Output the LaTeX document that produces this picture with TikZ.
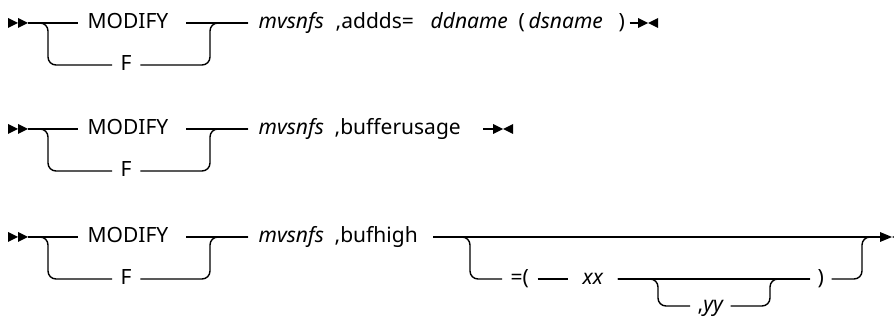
\documentclass[tikz,border=0pt]{standalone}
\usepackage{fontspec}
\setmainfont{Noto Sans}
\begin{document}
\fontsize{21}{25}\selectfont
\begin{tikzpicture}[x=1pt,y=-1pt, line width=1.4pt,
  txt/.style={anchor=mid west, inner xsep=8pt, inner ysep=0pt, font=\fontsize{21}{25}\selectfont},
  itx/.style={txt, font=\fontsize{21}{25}\selectfont\itshape},
  plain/.style={inner xsep=0pt},
  rc/.style={rounded corners=8pt}]
\useasboundingbox (0,0) rectangle (894,320);
\clip (0,0) rectangle (894,320);
% common left part of each row
\foreach \r/\Y in {a/23,b/129,c/237}{
  \fill (8,\Y-5) -- (18,\Y) -- (8,\Y+5) -- cycle;
  \fill (18,\Y-5) -- (28,\Y) -- (18,\Y+5) -- cycle;
  \coordinate (s\r) at (28,\Y);
  \node[txt, inner xsep=9pt] (mod\r) at (78,\Y) {MODIFY};
  \node[txt] (f\r) at (112,\Y+42) {F};
  \node[itx, inner xsep=10pt] (mv\r) at (248,\Y) {mvsnfs};
  \draw (s\r) -- (mod\r.mid west);
  \draw[rc] (s\r) -- (48,\Y) -- (48,\Y+42) -- (f\r.mid west);
  \draw[rc] (f\r.mid east) -- (210,\Y+42) -- (210,\Y) -- (mv\r.mid west);
  \draw ([xshift=8pt]mod\r.mid east) -- (mv\r.mid west);
}
% row 1
\node[txt, plain] (adda) at (335,23) {,addds=};
\node[itx, plain] (ddn) at (430,23) {ddname};
\node[txt, plain] (lpa) at (518,23) {(};
\node[itx, plain] (dsn) at (528,23) {dsname};
\node[txt, plain, inner xsep=4pt] (rpa) at (614,23) {)};
\coordinate (ea) at (638,23);
\draw (rpa.mid east) -- (ea);
\fill (638,18) -- (648,23) -- (638,28) -- cycle;
\fill (648,23) -- (658,18) -- (658,28) -- cycle;
% row 2
\node[txt, plain] (bu) at (334,129) {,bufferusage};
\coordinate (b1) at (483,129);
\coordinate (eb) at (493,129);
\draw (b1) -- (eb);
\fill (493,124) -- (503,129) -- (493,134) -- cycle;
\fill (503,129) -- (513,124) -- (513,134) -- cycle;
% row 3
\node[txt, plain] (bh) at (334,237) {,bufhigh};
\coordinate (c3) at (433,237);
\coordinate (ec) at (880,237);
\node[txt] (eq) at (502,279) {=(};
\node[itx, inner xsep=14pt] (xx) at (568,279) {xx};
\node[txt, inner xsep=7pt] (rp3) at (810,279) {)};
\node[txt, inner xsep=7pt] (yy) at (690,306) {,\itshape yy};
\draw (c3) -- (ec);
\draw[rc] (c3) -- (470,237) -- (470,279) -- (eq.mid west);
\draw (eq.mid east) -- (xx.mid west);
\draw (xx.mid east) -- (rp3.mid west);
\draw[rc] (xx.mid east) -- (658,279) -- (658,306) -- (yy.mid west);
\draw[rc] (yy.mid east) -- (770,306) -- (770,279) -- (rp3.mid west);
\draw[rc] (rp3.mid east) -- (862,279) -- (862,237) -- (ec);
\fill (880,232) -- (892,237) -- (880,242) -- cycle;
\fill (892,237) -- (904,232) -- (904,242) -- cycle;
\end{tikzpicture}
\end{document}
